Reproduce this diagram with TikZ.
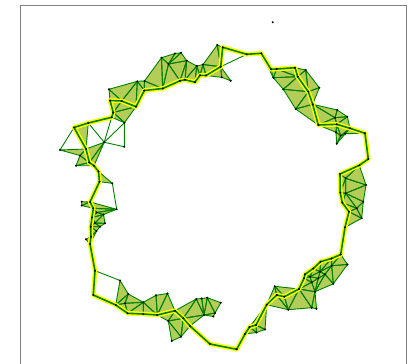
\documentclass[tikz,border=0pt]{standalone}
\usepackage{tikz}
\definecolor{cellfill}{HTML}{B4CC58}
\definecolor{edgegreen}{HTML}{008000}
\definecolor{cycyellow}{HTML}{FFFF00}
\definecolor{framegray}{HTML}{7F7F7F}
\tikzset{
  % komplex
  cell/.style={fill=cellfill},
  ed/.style={draw=edgegreen,line width=0.9pt,line join=round},
  cyc/.style={draw=cycyellow,line width=4.6pt,line join=round},
  cycg/.style={draw=edgegreen,line width=1.6pt,line join=round},
  vx/.style={fill=black},
  axbox/.style={draw=framegray,line width=1.2pt},
}
\def\pts{1/217.3/45, 2/222.7/47.3, 3/220.7/66.7, 4/221.7/77.3, 5/230.7/80.7,
  6/246.7/54.3, 7/261.3/53.3, 8/271/69.3, 9/276.7/69, 10/273.3/77.7,
  11/295/67.7, 12/305.7/70, 13/297.7/76.7, 14/283.3/89.3, 15/319.3/87.7,
  16/308.3/91.7, 17/295.7/109, 18/312.7/104.3, 19/318.3/125, 20/337.3/110,
  21/335/117.7, 22/347.3/116.7, 23/336.7/124.3, 24/350/128.3, 25/336/132.3,
  26/340.7/135.7, 27/345.3/133.7, 28/336.7/143.7, 29/365/133.3, 30/368.3/159,
  31/359.3/165.3, 32/340/174, 33/345.7/178.3, 34/366/185, 35/340.3/192.7,
  36/345.7/193.3, 37/363.3/201.7, 38/342.3/202.7, 39/356.7/208.3, 40/349/211.7,
  41/361.7/218.3, 42/345/227.3, 43/340.7/254.5, 44/347.5/264.5, 45/331.5/258.5,
  46/320.5/261.7, 47/313.3/268.5, 48/320/271.7, 49/331.7/265.7, 50/325/274.3,
  51/305/274.3, 52/304/278.3, 53/310/276.7, 54/318.3/278.3, 55/311.7/282.3,
  56/333.3/283.8, 57/299/289, 58/315/291.7, 59/274.7/286.3, 60/276.7/295,
  61/284.3/296.7, 62/288.3/309.7, 63/311.7/307.7, 64/316.5/308.8, 65/266.7/304.7,
  66/265/329.5, 67/256/325, 68/249.5/327, 69/256.5/332.5, 70/245/334,
  71/236.7/349.3, 72/210/344, 73/190/326, 74/183.3/318.3, 75/171.7/341,
  76/181/336.7, 77/168.3/321, 78/175/310.7, 79/157.3/315, 80/143.3/314,
  81/127.7/313.3, 82/115.7/305, 83/125/303.3, 84/128.3/294, 85/120/280.5,
  86/143.3/302.3, 87/156/295.3, 88/167.5/293.5, 89/196.3/299, 90/201.7/298.5,
  91/207.3/297.7, 92/220.8/302.7, 93/204/315, 94/215/313, 95/213.3/316.5,
  96/93.3/295, 97/95/270.7, 98/90/244, 99/86/239.3, 100/91/236.7,
  101/96.5/231, 102/100/226.7, 103/90.7/226.7, 104/95/223, 105/105/223.3,
  106/92/217.5, 107/103.5/214.5, 108/96.7/212.5, 110/93.3/208.3, 111/90/202,
  112/81.7/201.7, 113/81.7/205.5, 114/116.7/209.3, 115/112.3/183.3, 116/99.5/181.7,
  117/98.5/171.5, 118/94/165.7, 119/89.3/162.5, 120/76/165.7, 121/80/155.5,
  122/86/149, 123/60/150, 124/74/127.5, 125/88.3/123, 126/104.2/142.3,
  127/124.3/146.7, 128/111.7/117.3, 129/124.5/122.7, 130/113.3/112.5, 131/136/106.7,
  132/121.7/101, 133/110/100.5, 134/109/89.3, 135/137.3/81.3, 136/144.5/81,
  137/144.3/90.5, 138/162.7/88.5, 139/161.5/57.7, 140/175/53.5, 141/181/52.8,
  142/168.5/64, 143/186.7/60.7, 144/180/80.8, 145/185/79.8, 146/195/82.2,
  147/196.7/66, 148/203/64.5, 149/200/75.3, 150/206/75.5, 151/272.7/22.3}
\def\tris{136/139/138, 139/142/138, 139/140/142, 140/141/142, 141/143/142,
  142/143/144, 142/144/138, 143/145/144, 143/147/145, 145/147/146, 147/148/149,
  147/149/146, 148/150/149, 148/1/3, 1/2/3, 148/3/150, 3/150/4, 3/4/5,
  136/137/138, 135/136/137, 135/137/131, 132/135/131, 134/133/132, 134/132/135,
  133/132/130, 130/132/131, 130/131/129, 128/130/129,
  124/125/122, 123/122/121, 121/122/119, 122/126/119, 126/118/119, 120/121/119,
  119/118/120,
  117/116/115, 111/114/110, 110/114/108, 108/114/107, 112/113/111, 113/111/110,
  106/108/107, 106/107/104, 104/107/105, 104/105/102, 103/104/102, 103/102/101,
  100/101/103, 99/100/98, 100/101/98, 110/108/106, 106/104/103,
  85/84/82, 82/84/83, 82/83/81, 83/84/86, 83/86/81, 81/86/80, 80/86/79,
  86/87/79, 87/88/79, 88/78/79, 79/78/77, 78/77/74, 77/75/76, 77/76/74,
  74/76/73, 78/89/74, 89/90/93, 89/93/74, 90/91/93, 91/92/94, 91/94/93,
  94/95/93, 74/93/73,
  43/44/49, 43/45/49, 45/46/48, 45/48/49, 44/49/56, 49/50/56, 48/49/50,
  46/47/48, 47/51/53, 47/53/48, 48/53/54, 48/54/50, 51/52/53, 52/53/55,
  53/54/55, 54/55/58, 50/54/58, 50/56/58, 52/55/57, 55/57/58, 57/58/63,
  58/63/64, 57/62/63, 57/61/62, 59/60/61, 59/61/57, 60/61/62, 60/65/62,
  59/60/65, 65/66/67, 66/67/69, 67/68/69, 68/69/70, 65/67/68, 68/70/71,
  8/9/10, 9/10/13, 9/11/13, 11/12/13, 10/13/14, 13/16/14, 12/15/16, 12/13/16,
  14/16/17, 16/18/17, 15/18/16, 17/18/19, 18/20/21, 18/21/19, 19/21/23,
  20/22/21, 21/22/23, 22/24/23, 23/24/26, 23/26/25, 24/27/26, 25/26/28,
  26/27/28, 24/29/27, 19/23/25,
  31/32/33, 31/33/34, 33/34/36, 32/33/35, 35/36/33, 36/34/37, 35/36/38,
  36/37/39, 36/39/38, 38/39/40, 39/41/40, 40/41/42, 37/41/39}
\def\edges{2/6, 3/6, 6/7, 7/8, 7/10, 29/30, 30/31, 42/43, 71/72, 72/73,
  82/96, 96/97, 97/98, 97/85, 111/116, 115/114, 117/118, 125/128, 125/126,
  126/128, 126/127, 127/129, 126/129, 123/124}
\begin{document}
\begin{tikzpicture}[x=1pt,y=-1pt]
\useasboundingbox (0,0) rectangle (416,364);
  \foreach \i/\x/\y in \pts
    \coordinate (p\i) at (\x,\y);
  \draw[axbox] (20.7,364) -- (20.7,5.7) -- (406.7,5.7) -- (406.7,364);
  % dreiecke
  \foreach \a/\b/\c in \tris
    \fill[cell] (p\a) -- (p\b) -- (p\c) -- cycle;
  \foreach \a/\b/\c in \tris
    \draw[ed] (p\a) -- (p\b) -- (p\c) -- cycle;
  \foreach \a/\b in \edges
    \draw[ed] (p\a) -- (p\b);
  % zyklus
  \foreach \s in {cyc,cycg}
    \draw[\s] (p2) \foreach \i in {6,7,8,9,11,13,16,18,19,23,24,29,30,31,32,
      35,38,40,42,43,45,46,47,51,52,57,61,60,65,67,68,70,71,72,73,74,78,79,
      80,81,82,96,97,98,100,103,106,110,111,116,117,118,119,122,124,125,128,
      130,133,132,131,137,138,144,145,146,149,150,3} {-- (p\i)} -- cycle;
  \foreach \i/\x/\y in \pts
    \fill[vx] (p\i) circle (1.1);
\end{tikzpicture}
\end{document}
